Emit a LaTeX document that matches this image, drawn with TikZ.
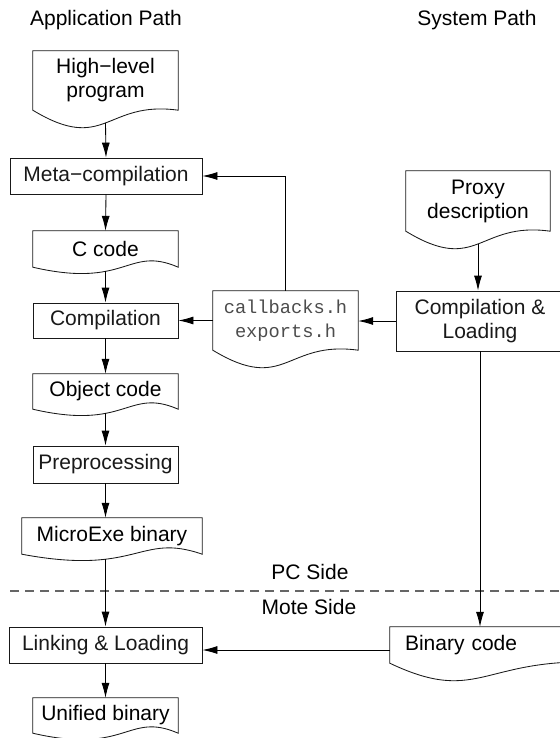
\documentclass[tikz,border=0pt]{standalone}
\usepackage{fontspec}
\setmainfont{Liberation Sans}
\newfontfamily\codefont{Liberation Mono}
\usetikzlibrary{arrows.meta,calc}

% Outline of a "document" node: straight top and sides, wavy bottom.
% #1 node, #2 dip below the corners, #3 rise above them, #4 x offset of the wave controls
\newcommand\docoutline[4]{%
  \draw[boxline] (#1.south west) -- (#1.north west) -- (#1.north east) -- (#1.south east)
    .. controls ($(#1.south)+(#4,-#3)$) and ($(#1.south)+(#4,#2)$) .. (#1.south west) -- cycle;}

\begin{document}
\begin{tikzpicture}[x=1pt,y=-1pt,
  every node/.style={font=\fontsize{21}{24}\selectfont},
  boxline/.style={line width=0.85pt, black!90},
  procbox/.style={draw, boxline, inner sep=0pt, minimum height=36pt, align=center},
  docbox/.style={inner sep=0pt, align=center, minimum height=36pt},
  flow/.style={line width=0.85pt, -{Latex[length=15pt,width=8pt]}},
  sideline/.style={line width=1.1pt, black!60, dash pattern=on 9pt off 6pt},
  heading/.style={inner sep=0pt}]
\useasboundingbox (0,0) rectangle (559,738);

% column headings
\node[heading] (apphead) at (106,20) {Application Path};
\node[heading] (syshead) at (477,20) {System Path};

% application path
\node[docbox, minimum width=145pt, minimum height=59pt] (hl) at (105.5,80.5) {High−level\\program};
\node[procbox, minimum width=192pt] (meta) at (106,176) {Meta−compilation};
\node[docbox, minimum width=145pt] (cc) at (105.5,249) {C code};
\node[procbox, minimum width=145pt, minimum height=35pt] (comp) at (105.5,320.5) {Compilation};
\node[docbox, minimum width=145pt, minimum height=35pt] (obj) at (105.5,391.5) {Object code};
\node[procbox, minimum width=145pt, minimum height=37pt] (pre) at (105.5,464.5) {Preprocessing};
\node[docbox, minimum width=180pt] (me) at (112,536) {MicroExe binary};
\node[procbox, minimum width=193pt] (ll) at (105.5,645) {Linking \& Loading};
\node[docbox, minimum width=145pt, minimum height=35pt] (ub) at (105.5,715.5) {Unified binary};

% system path
\node[docbox, minimum width=144pt, minimum height=60pt] (pd) at (478,201) {Proxy\\description};
\node[procbox, minimum width=168pt, minimum height=60pt] (cl) at (480,321) {Compilation \&\\Loading};
\node[docbox, minimum width=145pt, minimum height=59pt,
      font=\codefont\fontsize{18.7}{24}\selectfont, text=black!70] (cb) at (285.5,320.5) {callbacks.h\\exports.h};
\node[docbox, text width=195pt, align=left, inner xsep=15pt] (bc) at (502.5,645) {Binary code};

% document outlines
\docoutline{hl}{44}{10}{0}
\docoutline{cc}{22}{22}{22}
\docoutline{obj}{22}{22}{22}
\docoutline{me}{22}{22}{27}
\docoutline{ub}{22}{22}{22}
\docoutline{pd}{44}{10}{0}
\docoutline{cb}{44}{10}{0}
\docoutline{bc}{44}{10}{-20}

% PC / mote boundary
\coordinate (dashL) at (10,591);
\coordinate (dashR) at (559,591);
\draw[sideline] (dashL) -- (dashR);
\node[heading] (pcside) at (310,572) {PC Side};
\node[heading] (moteside) at (309,607) {Mote Side};

% connectors
\draw[flow] ([yshift=-12.75pt]hl.south) -- (meta.north);
\draw[flow] (meta.south) -- (cc.north);
\draw[flow] ([yshift=-4pt]cc.south) -- (comp.north);
\draw[flow] (comp.south) -- (obj.north);
\draw[flow] ([yshift=-4pt]obj.south) -- (pre.north);
\draw[flow] (pre.south) -- (pre.south |- me.north);
\draw[flow] ([yshift=-4.7pt]me.south -| ll.north) -- (ll.north);
\draw[flow] (ll.south) -- (ub.north);

\draw[flow] ([yshift=-12.75pt]pd.south) -- (pd.south |- cl.north);
\draw[flow] (cl.west) -- (cl.west -| cb.east);
\draw[flow] (cb.west) -- (cb.west -| comp.east);
\draw[flow] (cb.north) |- (meta.east);
\draw[flow] (cl.south) -- (cl.south |- bc.north);
\draw[flow] ([yshift=-5pt]bc.west) -- ([yshift=-5pt]bc.west -| ll.east);
\end{tikzpicture}
\end{document}
